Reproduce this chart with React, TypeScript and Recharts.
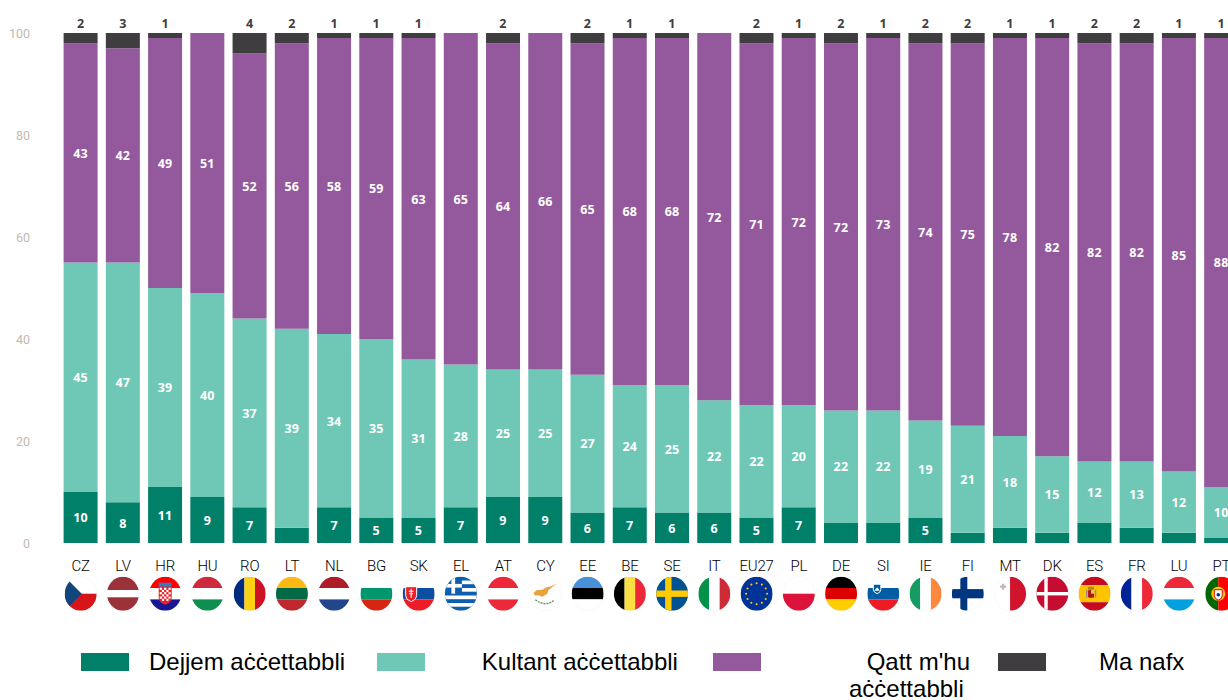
import React from "react";
import { BarChart, Bar, XAxis, YAxis, LabelList, Legend } from "recharts";

const countries = ["CZ","LV","HR","HU","RO","LT","NL","BG","SK","EL","AT","CY","EE","BE","SE","IT","EU27","PL","DE","SI","IE","FI","MT","DK","ES","FR","LU","PT"];
const always = [10,8,11,9,7,3,7,5,5,7,9,9,6,7,6,6,5,7,4,4,5,2,3,2,4,3,2,1];
const sometimes = [45,47,39,40,37,39,34,35,31,28,25,25,27,24,25,22,22,20,22,22,19,21,18,15,12,13,12,10];
const never = [43,42,49,51,52,56,58,59,63,65,64,66,65,68,68,72,71,72,72,73,74,75,78,82,82,82,85,88];
const dontKnow = [2,3,1,0,4,2,1,1,1,0,2,0,2,1,1,0,2,1,2,1,2,2,1,1,2,2,1,1];
const yTicks = [0,20,40,60,80,100];
const seriesNames = ["Dejjem aċċettabbli","Kultant aċċettabbli","Qatt m'hu aċċettabbli","Ma nafx"];

const COLORS = ["#008069","#6fc8b6","#93599c","#3f3d40"];
const rows = countries.map((c,i)=>({country:c,always:always[i],sometimes:sometimes[i],never:never[i],dontKnow:dontKnow[i]}));

const R = { x: 16, y: 17 };
const H = (a:string,b:string,c:string,t=-5.7,u=5.7)=>(<>
  <rect x={-R.x} y={-R.y} width={32} height={t+R.y} fill={a}/>
  <rect x={-R.x} y={t} width={32} height={u-t} fill={b}/>
  <rect x={-R.x} y={u} width={32} height={R.y-u} fill={c}/>
</>);
const V = (a:string,b:string,c:string,t=-5.3,u=5.3)=>(<>
  <rect x={-R.x} y={-R.y} width={t+R.x} height={34} fill={a}/>
  <rect x={t} y={-R.y} width={u-t} height={34} fill={b}/>
  <rect x={u} y={-R.y} width={R.x-u} height={34} fill={c}/>
</>);
const W="#ffffff";
const Star=({a,r}:{a:number,r:number})=>{
  const cx=Math.cos(a)*r, cy=Math.sin(a)*r;
  return <circle cx={cx} cy={cy} r={1.05} fill="#ffcc00"/>;
};
const flags:Record<string,()=>React.ReactNode>={
  CZ:()=>(<><rect x={-16} y={-17} width={32} height={17} fill={W}/><rect x={-16} y={0} width={32} height={17} fill="#d7141a"/><path d="M-16,-17L1,0L-16,17Z" fill="#11457e"/></>),
  LV:()=>H("#9b3139",W,"#9b3139",-3.6,3.6),
  HR:()=>(<>{H("#ff0000",W,"#171796")}<rect x={-6.5} y={-11} width={13} height={4} fill="#2f7fc0"/><path d="M-6.5,-7H6.5V4Q6.5,9 0,11Q-6.5,9 -6.5,4Z" fill="#e8222a"/>
    {[-4.4,0,4.4].map(x=>[-6,-1.6,2.8].map(y=><rect key={x+"_"+y} x={x-1.1} y={y} width={2.2} height={2.2} fill={W}/>))}
    {[-2.2,2.2].map(x=>[-3.8,0.6,5].map(y=><rect key={x+"_"+y} x={x-1.1} y={y} width={2.2} height={2.2} fill={W}/>))}</>),
  HU:()=>H("#cd2a3e",W,"#0e8f4f"),
  RO:()=>V("#002b7f","#fcd116","#ce1126"),
  LT:()=>H("#fdb913","#006a44","#c1272d"),
  NL:()=>H("#ae1c28",W,"#21468b"),
  BG:()=>H(W,"#00966e","#d62612"),
  SK:()=>(<>{H(W,"#0b4ea2","#ee1c25")}<path d="M-13,-7H-2V2Q-2,6 -7.5,8Q-13,6 -13,2Z" fill="#ee1c25" stroke={W} strokeWidth={1}/><path d="M-7.5,-5V4M-10,-2.5H-5M-9.5,0H-5.5" stroke={W} strokeWidth={1.1}/></>),
  EL:()=>(<><rect x={-16} y={-17} width={32} height={34} fill="#0d5eaf"/>
    {[-13.2,-5.7,1.8,9.3].map(y=><rect key={y} x={-16} y={y} width={32} height={3.7} fill={W}/>)}
    <rect x={-16} y={-17} width={17} height={17} fill="#0d5eaf"/><rect x={-9.5} y={-17} width={3.7} height={17} fill={W}/><rect x={-16} y={-9.8} width={17} height={3.7} fill={W}/></>),
  AT:()=>H("#ed2939",W,"#ed2939"),
  CY:()=>(<><rect x={-16} y={-17} width={32} height={34} fill={W}/><path d="M-12,-0.5L-9,-3.5L-3,-4L1,-6.5L6,-7.5L12,-10.5L6,-6L3,-3.5L2,0L-3,3L-7,1.5L-10,2Z" fill="#e8a33d"/><path d="M-10,6Q-5,10 0,10Q5,10 9,6" fill="none" stroke="#6b8f5e" strokeWidth={1.4} strokeDasharray="2 1"/></>),
  EE:()=>H("#4891d9","#000000",W),
  BE:()=>V("#000000","#fae042","#ed2939"),
  SE:()=>(<><rect x={-16} y={-17} width={32} height={34} fill="#005293"/><rect x={-7} y={-17} width={6.4} height={34} fill="#fecb00"/><rect x={-16} y={-3.2} width={32} height={6.4} fill="#fecb00"/></>),
  IT:()=>V("#009246",W,"#ce2b37"),
  EU27:()=>(<><rect x={-16} y={-17} width={32} height={34} fill="#003399"/>{Array.from({length:12},(_,i)=><Star key={i} a={i*Math.PI/6} r={10.5}/>)}</>),
  PL:()=>(<><rect x={-16} y={-17} width={32} height={17} fill={W}/><rect x={-16} y={0} width={32} height={17} fill="#dc143c"/></>),
  DE:()=>H("#000000","#dd0000","#ffce00"),
  SI:()=>(<>{H(W,"#005da4","#ed1c24")}<path d="M-10,-9.5H-2.5V-4Q-2.5,-1.5 -6.2,0Q-10,-1.5 -10,-4Z" fill="#005da4" stroke={W} strokeWidth={1}/><path d="M-9,-3L-6.2,-6.5L-3.5,-3Z" fill={W}/></>),
  IE:()=>V("#169b62",W,"#ff883e"),
  FI:()=>(<><rect x={-16} y={-17} width={32} height={34} fill={W}/><rect x={-7.5} y={-17} width={7} height={34} fill="#003580"/><rect x={-16} y={-4.6} width={32} height={9.2} fill="#003580"/></>),
  MT:()=>(<><rect x={-16} y={-17} width={16} height={34} fill={W}/><rect x={0} y={-17} width={16} height={34} fill="#cf142b"/><path d="M-7,-10V-4M-10,-7H-4" stroke="#c9b4b7" strokeWidth={2.2}/></>),
  DK:()=>(<><rect x={-16} y={-17} width={32} height={34} fill="#c60c30"/><rect x={-8} y={-17} width={3.4} height={34} fill={W}/><rect x={-16} y={-1.7} width={32} height={3.4} fill={W}/></>),
  ES:()=>(<>{H("#c60b1e","#ffc400","#c60b1e",-8.5,8.5)}<rect x={-6.5} y={-4} width={6} height={8} rx={1.5} fill="#ad1519"/><rect x={-3.5} y={-4} width={3} height={4} fill="#e8c57a"/><rect x={-6.5} y={-7} width={6} height={3} fill="#b8860b"/><rect x={-8.5} y={-4} width={1.4} height={8} fill="#a88"/><rect x={0.3} y={-4} width={1.4} height={8} fill="#a88"/></>),
  FR:()=>V("#002395",W,"#ed2939"),
  LU:()=>H("#ed2939",W,"#00a1de"),
  PT:()=>(<><rect x={-16} y={-17} width={13} height={34} fill="#006600"/><rect x={-3} y={-17} width={19} height={34} fill="#ff0000"/><circle cx={-3} cy={0} r={7} fill="#ffcc00"/><path d="M-7,-4H1V2Q1,5 -3,6.5Q-7,5 -7,2Z" fill={W} stroke="#d00" strokeWidth={1}/><circle cx={-3} cy={1} r={1.8} fill="#003399"/></>),
};

const CountryTick=(props:any)=>{
  const {x,y,payload}=props;
  const code=payload.value as string;
  const id="clip-"+code;
  return (
    <g transform={`translate(${x},${y})`}>
      <text x={0} y={27.7} textAnchor="middle" fontFamily="Roboto, sans-serif" fontWeight={300} fontSize={15} letterSpacing={-0.2} fill="#000000">{code}</text>
      <g transform="translate(0,50.7)">
        <clipPath id={id}><ellipse cx={0} cy={0} rx={16} ry={17}/></clipPath>
        <g clipPath={`url(#${id})`}>{flags[code]?.()}</g>
        <ellipse cx={0} cy={0} rx={16} ry={17} fill="none" stroke="#000" strokeOpacity={0.05} strokeWidth={0.6}/>
      </g>
    </g>
  );
};

const swatchLefts=[81,376.5,713.3,997.5];
const textLines=[
  [{x:149,dy:0,t:"Dejjem aċċettabbli"}],
  [{x:481.8,dy:0,t:"Kultant aċċettabbli"}],
  [{x:866.7,dy:0,t:"Qatt m'hu"},{x:849,dy:27,t:"aċċettabbli"}],
  [{x:1099,dy:0,t:"Ma nafx"}],
];
const LegendContent=(props:any)=>{
  const payload=props.payload||[];
  return (
    <div style={{position:"absolute",left:0,top:0,width:1228,height:700,fontFamily:"'Liberation Sans', Arial, sans-serif",fontSize:24,color:"#000"}}>
      {payload.map((p:any,i:number)=>(
        <React.Fragment key={p.value}>
          <div style={{position:"absolute",left:swatchLefts[i],top:653,width:48,height:18,background:p.color}}/>
          {textLines[i].map(l=>(
            <div key={l.t} style={{position:"absolute",left:l.x,top:648+l.dy,lineHeight:"27px",whiteSpace:"nowrap"}}>{l.t}</div>
          ))}
        </React.Fragment>
      ))}
    </div>
  );
};

const whiteLabel={fill:"#ffffff",fontFamily:"'Open Sans', sans-serif",fontWeight:700,fontSize:12.5,letterSpacing:0.2};
const hideBelow=(n:number)=>(v:any)=>(Number(v)>=n?v:"");

export default function App(){
  return (
    <div style={{position:"absolute",left:0,top:0,width:1228,height:700,overflow:"hidden",background:"#fff"}}>
      <BarChart width={1253} height={700} data={rows} margin={{top:33,right:10.6,bottom:97,left:0}} barCategoryGap={0} barSize={34}>
        <XAxis dataKey="country" type="category" interval={0} height={60} axisLine={false} tickLine={false} tickSize={0} tickMargin={0} tick={CountryTick}/>
        <YAxis type="number" domain={[0,100]} ticks={yTicks} width={59.6} axisLine={false} tickLine={false} tickSize={0} tickMargin={29.6} tick={{fill:"#c4b9b0",fontSize:12.5,fontFamily:"Roboto, sans-serif",dy:1}}/>
        <Legend layout="horizontal" verticalAlign="middle" align="center" itemSorter={null} content={LegendContent} wrapperStyle={{position:"absolute",left:0,top:0,width:1228,height:700,pointerEvents:"none"}}/>
        <Bar dataKey="always" name={seriesNames[0]} stackId="s" fill={COLORS[0]} isAnimationActive={false}>
          <LabelList dataKey="always" position="center" formatter={hideBelow(5)} style={whiteLabel} dy={0.5}/>
        </Bar>
        <Bar dataKey="sometimes" name={seriesNames[1]} stackId="s" fill={COLORS[1]} isAnimationActive={false}>
          <LabelList dataKey="sometimes" position="center" style={whiteLabel} dy={0.5}/>
        </Bar>
        <Bar dataKey="never" name={seriesNames[2]} stackId="s" fill={COLORS[2]} isAnimationActive={false}>
          <LabelList dataKey="never" position="center" style={whiteLabel} dy={0.5}/>
        </Bar>
        <Bar dataKey="dontKnow" name={seriesNames[3]} stackId="s" fill={COLORS[3]} isAnimationActive={false}>
          <LabelList dataKey="dontKnow" position="top" offset={5} formatter={hideBelow(1)} style={{...whiteLabel,fill:COLORS[3]}}/>
        </Bar>
      </BarChart>
    </div>
  );
}
